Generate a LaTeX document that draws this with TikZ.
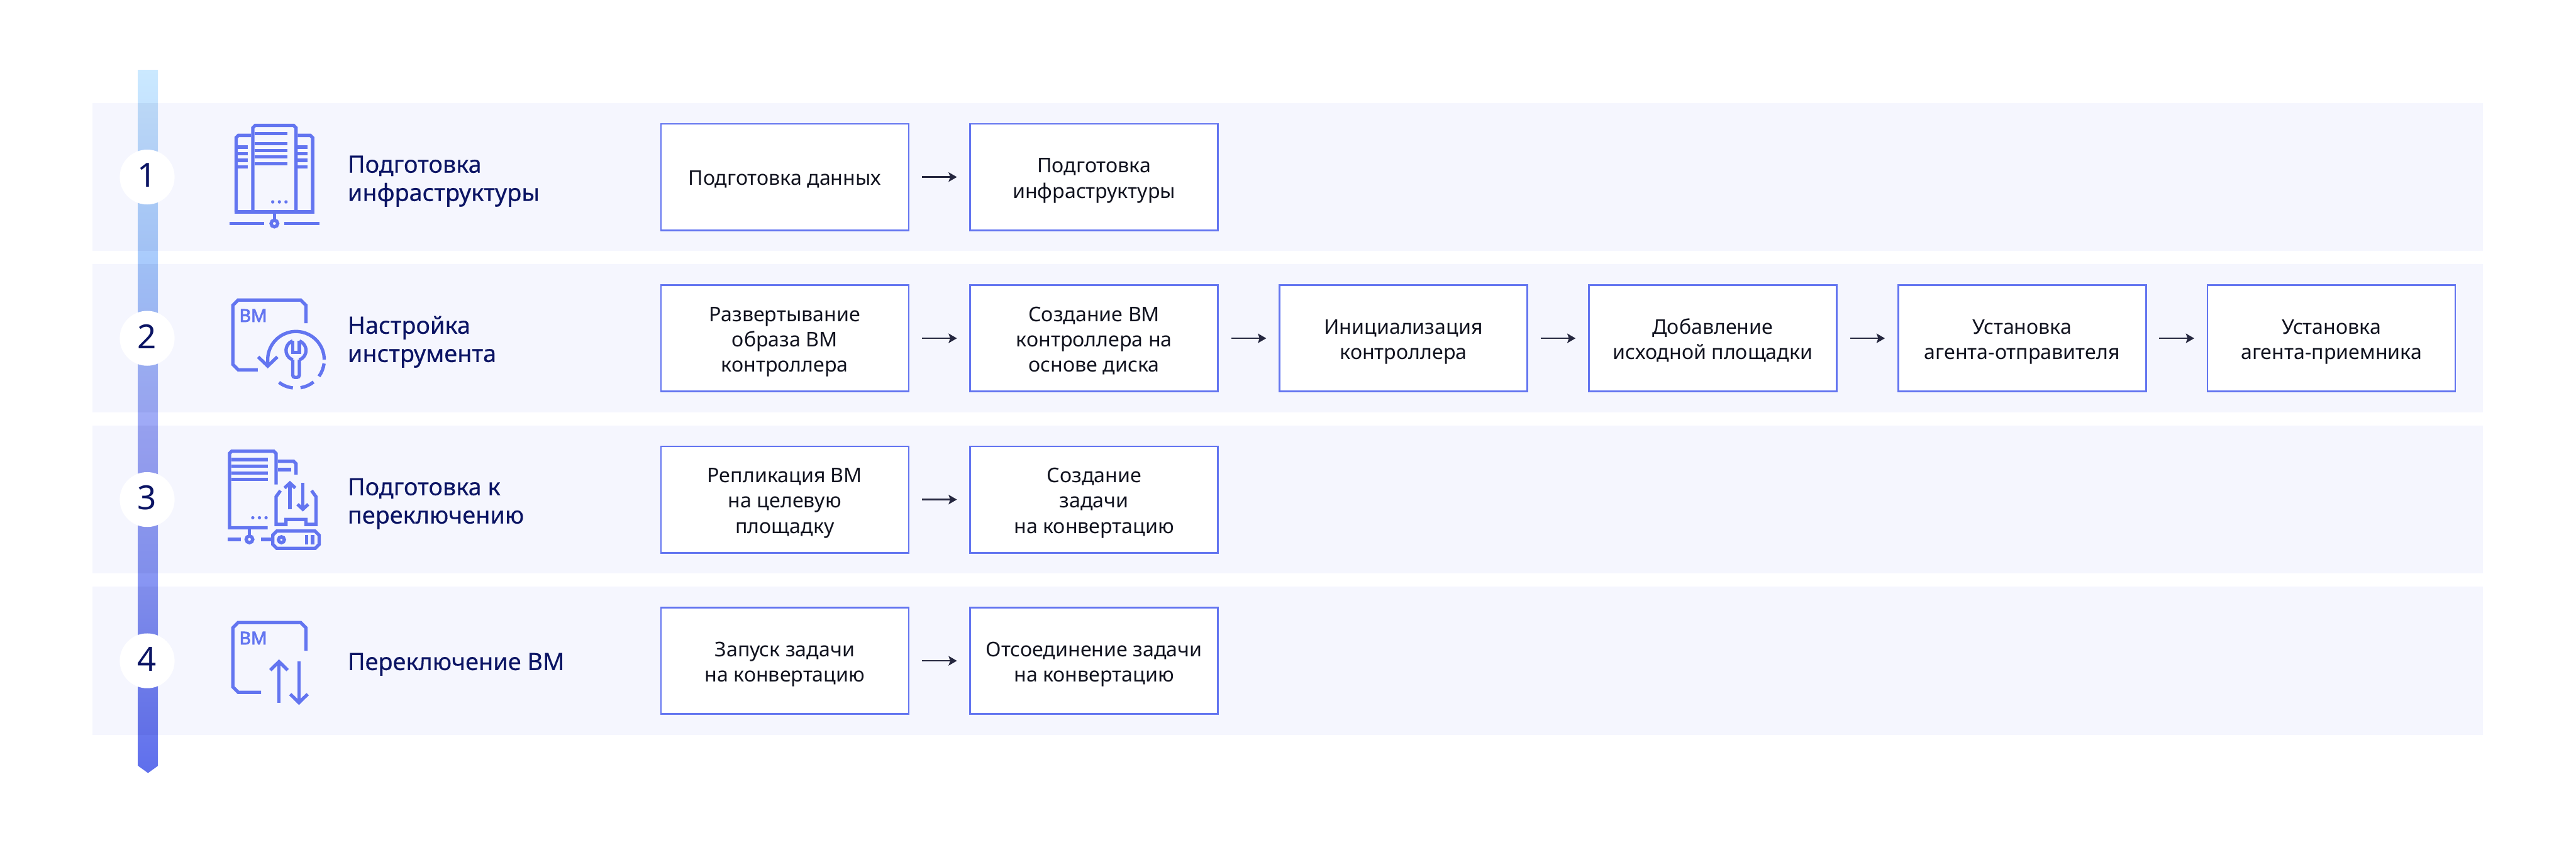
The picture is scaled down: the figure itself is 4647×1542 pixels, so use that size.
\documentclass[tikz,border=0pt]{standalone}
\usepackage{fontspec}
\setmainfont{Noto Sans}
\newfontfamily\labelfont[FakeBold=0.35]{Noto Sans}
\newfontfamily\bmfont[FakeBold=3]{Noto Sans}
\usetikzlibrary{arrows.meta}
\definecolor{bandbg}{HTML}{F5F6FE}
\definecolor{iconblue}{HTML}{6375F0}
\definecolor{navy}{HTML}{0B1464}
\definecolor{boxtext}{HTML}{11131F}
\definecolor{arrowdark}{HTML}{25273F}
\definecolor{barA}{HTML}{CBE9FF}
\definecolor{barB}{HTML}{A8CAFC}
\definecolor{barC}{HTML}{9FA9F6}
\definecolor{barD}{HTML}{8795F3}
\definecolor{barE}{HTML}{5F6FEC}
\pgfdeclareverticalshading{barshade}{100bp}{color(0bp)=(barE);color(25bp)=(barE);color(38.2bp)=(barD);color(49.6bp)=(barC);color(61.05bp)=(barB);color(75bp)=(barA);color(100bp)=(barA)}
\newcommand{\boxtxt}[1]{\raisebox{-6pt}[\height][\depth]{\begin{tabular}{@{}c@{}}#1\end{tabular}}}
\newcommand{\numtxt}[1]{\raisebox{3pt}[\height][\depth]{#1}}
\tikzset{
  band/.style={rectangle,fill=bandbg,draw=none,minimum width=4312pt,minimum height=267pt,inner sep=0pt,outer sep=0pt},
  numdisc/.style={circle,fill=white,draw=none,minimum size=99pt,inner sep=0pt,text=navy,font=\fontsize{60}{60}\selectfont},
  stepbox/.style={rectangle,fill=white,draw=iconblue,line width=3pt,minimum width=447pt,minimum height=192pt,inner sep=0pt,outer sep=0pt,text=boxtext,font=\fontsize{36.5}{45.6}\selectfont},
  steplabel/.style={anchor=west,inner sep=0pt,align=left,text=navy,font=\labelfont\fontsize{43}{51}\selectfont},
  flow/.style={draw=arrowdark,line width=3pt,shorten <=24pt,shorten >=24pt,-{Stealth[length=15pt,width=17pt,inset=3pt]}},
  icon/.style={draw=iconblue,line width=6pt,line cap=butt,miter limit=10},
  icondot/.style={fill=iconblue,draw=none},
  bmtext/.style={anchor=west,inner sep=0pt,text=iconblue,font=\bmfont\fontsize{32}{32}\selectfont},
  zoomed/.style={x=0.33333pt,y=-0.33333pt}
}
\begin{document}
\begin{tikzpicture}[x=1pt,y=-1pt]
\useasboundingbox (0,0) rectangle (4647,1542);
\fill[white] (0,0) rectangle (4647,1542);
% bands
\node[band] (band1) at (2323,319.5) {};
\node[band] (band2) at (2323,610.5) {};
\node[band] (band3) at (2323,901.5) {};
\node[band] (band4) at (2323,1192.5) {};
% timeline bar
\shade[shading=barshade] (249,126) -- (285,126) -- (285,1382) -- (267,1395) -- (249,1382) -- cycle;
\fill[black!60!blue,opacity=0.05] (249,186) rectangle (285,453);
\fill[black!60!blue,opacity=0.05] (249,477) rectangle (285,744);
\fill[black!60!blue,opacity=0.05] (249,768) rectangle (285,1035);
\fill[black!60!blue,opacity=0.05] (249,1059) rectangle (285,1326);
% numbers
\node[numdisc] (n1) at (265.5,319.5) {\numtxt{1}};
\node[numdisc] (n2) at (265.5,610.5) {\numtxt{2}};
\node[numdisc] (n3) at (265.5,901.5) {\numtxt{3}};
\node[numdisc] (n4) at (265.5,1192.5) {\numtxt{4}};
% labels
\node[steplabel] (l1) at (627,327) {Подготовка\\инфраструктуры};
\node[steplabel] (l2) at (627,617) {Настройка\\инструмента};
\node[steplabel] (l3) at (627,909) {Подготовка к\\переключению};
\node[steplabel] (l4) at (627,1199) {Переключение ВМ};
% boxes row 1
\node[stepbox] (a1) at (1415.75,319.5) {\boxtxt{Подготовка данных}};
\node[stepbox] (a2) at (1973.75,319.5) {\boxtxt{Подготовка\\инфраструктуры}};
\draw[flow] (a1.east) -- (a2.west);
% row 2
\node[stepbox] (b1) at (1415.75,610.5) {\boxtxt{Развертывание\\образа ВМ\\контроллера}};
\node[stepbox] (b2) at (1973.75,610.5) {\boxtxt{Создание ВМ\\контроллера на\\основе диска}};
\node[stepbox] (b3) at (2531.75,610.5) {\boxtxt{Инициализация\\контроллера}};
\node[stepbox] (b4) at (3089.75,610.5) {\boxtxt{Добавление\\исходной площадки}};
\node[stepbox] (b5) at (3647.75,610.5) {\boxtxt{Установка\\агента-отправителя}};
\node[stepbox] (b6) at (4205.75,610.5) {\boxtxt{Установка\\агента-приемника}};
\draw[flow] (b1.east) -- (b2.west);
\draw[flow] (b2.east) -- (b3.west);
\draw[flow] (b3.east) -- (b4.west);
\draw[flow] (b4.east) -- (b5.west);
\draw[flow] (b5.east) -- (b6.west);
% row 3
\node[stepbox] (c1) at (1415.75,901.5) {\boxtxt{Репликация ВМ\\на целевую\\площадку}};
\node[stepbox] (c2) at (1973.75,901.5) {\boxtxt{Создание\\задачи\\на конвертацию}};
\draw[flow] (c1.east) -- (c2.west);
% row 4
\node[stepbox] (d1) at (1415.75,1192.5) {\boxtxt{Запуск задачи\\на конвертацию}};
\node[stepbox] (d2) at (1973.75,1192.5) {\boxtxt{Отсоединение задачи\\на конвертацию}};
\draw[flow] (d1.east) -- (d2.west);
% icon 1
\begin{scope}[shift={(380,200)},zoomed]
\draw[icon] (228,548) -- (228,92) -- (241,79) -- (449,79) -- (462,92) -- (462,548);
\draw[icon] (219,133) -- (150,133) -- (138,145) -- (138,547);
\draw[icon] (471,133) -- (540,133) -- (552,145) -- (552,547);
\draw[icon] (129,547) -- (561,547);
\foreach \y in {124,178,214,250,286} \draw[icon] (237,\y) -- (417,\y);
\foreach \y in {196,232,268,304} {\draw[icon] (147,\y) -- (201,\y); \draw[icon] (471,\y) -- (525,\y);}
\foreach \x in {336,372,408} \fill[icondot] (\x,493) circle[radius=9];
\draw[icon] (345,556) -- (345,592);
\draw[icon] (345,610) circle[radius=18];
\draw[icon] (102,610) -- (291,610);
\draw[icon] (399,610) -- (588,610);
\end{scope}
% icon 2
\begin{scope}[shift={(380,500)},zoomed]
\draw[icon] (516,250) -- (516,153) -- (487,124) -- (149,124) -- (120,153) -- (120,473) -- (149,502) -- (255,502);
\node[bmtext] (bm2) at (155,208.5) {ВМ};
\draw[icon] (309,482) -- (311,474) arc[start angle=170,end angle=360,radius=153];
\draw[icon] (257,432) -- (309,482) -- (361,432);
\draw[icon] (613.7,468) arc[start angle=7.4,end angle=35.7,radius=153];
\draw[icon] (557,568) arc[start angle=51.6,end angle=80.7,radius=153];
\draw[icon] (445,600) arc[start angle=96.4,end angle=127,radius=153];
\draw[icon,line join=miter] (444,346) arc[start angle=250.5,end angle=109.5,radius=54];
\draw[icon] (480,448) arc[start angle=70.5,end angle=-70.5,radius=54];
\draw[icon] (444,346) -- (444,408) -- (480,408) -- (480,346);
\draw[icon,rounded corners=4pt] (444,447) -- (444,543) -- (480,543) -- (480,447);
\end{scope}
% icon 3
\begin{scope}[shift={(380,790)},zoomed]
\draw[icon] (354,253) -- (354,85) -- (342,73) -- (114,73) -- (102,85) -- (102,487) -- (309,487);
\foreach \y in {118,154,190,226} \draw[icon] (111,\y) -- (309,\y);
\foreach \x in {228,264,300} \fill[icondot] (\x,433) circle[radius=9];
\draw[icon] (210,496) -- (210,532);
\draw[icon] (210,550) circle[radius=18];
\draw[icon] (93,550) -- (165,550);
\draw[icon] (273,550) -- (328,550);
\draw[icon] (363,127) -- (449,127) -- (462,140) -- (462,199);
\draw[icon] (363,172) -- (435,172);
\draw[icon] (358,505) -- (565,505) -- (587,527) -- (587,577) -- (565,599) -- (358,599) -- (336,577) -- (336,527) -- cycle;
\draw[icon] (383,552) circle[radius=16];
\draw[icon] (520,527) -- (520,577);
\draw[icon] (552,527) -- (552,577);
\draw[icon] (378,286) -- (354,319) -- (354,469) -- (408,469) -- (408,442) -- (516,442) -- (516,469) -- (570,469) -- (570,319) -- (546,286);
\draw[icon] (429,388) -- (429,245);
\draw[icon] (400,272) -- (429,245) -- (458,272);
\draw[icon] (499,243) -- (499,387);
\draw[icon] (470,360) -- (499,387) -- (528,360);
\end{scope}
% icon 4
\begin{scope}[shift={(380,1090)},zoomed]
\draw[icon] (516,253) -- (516,129) -- (487,100) -- (149,100) -- (120,129) -- (120,449) -- (149,478) -- (273,478);
\node[bmtext] (bm4) at (155,184.5) {ВМ};
\draw[icon] (370,535) -- (370,312);
\draw[icon] (323,358) -- (370,312) -- (417,358);
\draw[icon] (478,312) -- (478,534);
\draw[icon] (431,488) -- (478,534) -- (525,488);
\end{scope}
\end{tikzpicture}
\end{document}
